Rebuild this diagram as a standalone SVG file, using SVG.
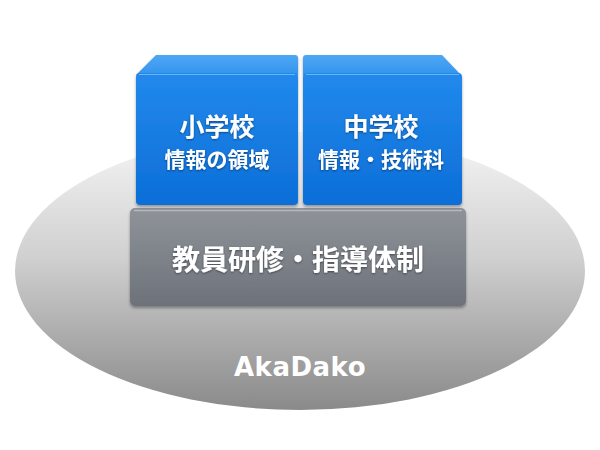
<svg xmlns="http://www.w3.org/2000/svg" width="600" height="450" viewBox="0 0 600 450">
  <defs>
    <linearGradient id="gEllipse" x1="0" y1="0" x2="0" y2="1">
      <stop offset="0" stop-color="#f6f6f6"/>
      <stop offset="0.45" stop-color="#d0d0d0"/>
      <stop offset="1" stop-color="#8a8a8a"/>
    </linearGradient>
    <linearGradient id="gFront" x1="0" y1="0" x2="0" y2="1">
      <stop offset="0" stop-color="#2289ec"/>
      <stop offset="1" stop-color="#0c6ed8"/>
    </linearGradient>
    <linearGradient id="gTop" x1="0" y1="0" x2="0" y2="1">
      <stop offset="0" stop-color="#4fa7f4"/>
      <stop offset="1" stop-color="#3394ee"/>
    </linearGradient>
    <linearGradient id="gGray" x1="0" y1="0" x2="0" y2="1">
      <stop offset="0" stop-color="#8f9399"/>
      <stop offset="1" stop-color="#6d727a"/>
    </linearGradient>
    <filter id="shadow" x="-10%" y="-10%" width="120%" height="130%">
      <feDropShadow dx="0" dy="2" stdDeviation="1.5" flood-color="#000" flood-opacity="0.35"/>
    </filter>
    <filter id="tshadow" x="-10%" y="-30%" width="120%" height="160%">
      <feDropShadow dx="0" dy="1" stdDeviation="1.2" flood-color="#000" flood-opacity="0.45"/>
    </filter>
  </defs>
  <style>
    .front { fill: url(#gFront); }
    .top { fill: url(#gTop); }
    .hl { fill: none; stroke: #6cb6f5; stroke-width: 1; }
    .t { fill: #ffffff; font-family: "Noto Sans CJK JP", "Noto Sans", sans-serif; font-weight: 700; text-anchor: middle; }
    .logo { fill: #ffffff; font-family: "DejaVu Sans", "Liberation Sans", sans-serif; font-weight: 700; text-anchor: middle; }
  </style>
  <rect width="600" height="450" fill="#ffffff"/>
  <g id="base">
    <ellipse cx="300" cy="271" rx="285" ry="139" fill="url(#gEllipse)"/>
    <text class="logo" x="300" y="376" font-size="26" letter-spacing="0.5">AkaDako</text>
  </g>
  <g id="gray-block" filter="url(#shadow)">
    <rect x="130" y="208" width="336" height="98" rx="5" fill="url(#gGray)"/>
    <path d="M134 210.5 H462" stroke="#b4b8bd" stroke-width="1.5" fill="none"/>
    <text class="t" x="298" y="270" font-size="28" filter="url(#tshadow)">教員研修・指導体制</text>
  </g>
  <g id="elementary" filter="url(#shadow)">
    <path class="top" d="M156 55 H295 Q298 55 298 58 V75 H136 Z"/>
    <rect class="front" x="136" y="73" width="162" height="132" rx="4"/>
    <path class="hl" d="M139 74.5 H295"/>
    <text class="t" x="217" y="136" font-size="25" filter="url(#tshadow)">小学校</text>
    <text class="t" x="217" y="167" font-size="21" filter="url(#tshadow)">情報の領域</text>
  </g>
  <g id="junior-high" filter="url(#shadow)">
    <path class="top" d="M303 58 Q303 55 306 55 H442 L461 75 H303 Z"/>
    <rect class="front" x="303" y="73" width="159" height="132" rx="4"/>
    <path class="hl" d="M306 74.5 H459"/>
    <text class="t" x="381" y="136" font-size="25" filter="url(#tshadow)">中学校</text>
    <text class="t" x="381" y="167" font-size="21" filter="url(#tshadow)">情報・技術科</text>
  </g>
</svg>
